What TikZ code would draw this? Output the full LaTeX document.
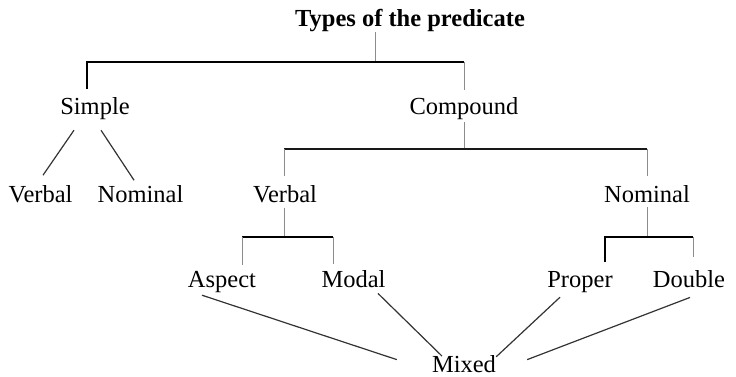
\documentclass[tikz,border=0pt]{standalone}
\usepackage{fontspec}
\setmainfont{Liberation Serif}
\usetikzlibrary{calc}
\begin{document}
\begin{tikzpicture}[x=1pt,y=-1pt,
  lbl/.style={anchor=base,inner sep=0pt,font=\fontsize{24.5}{28}\selectfont},
  ttl/.style={lbl,font=\fontsize{24.5}{28}\selectfont\bfseries},
  thk/.style={line width=2pt,black},
  mid/.style={line width=1.6pt,black!90},
  thn/.style={line width=0.9pt,black!45},
  dg/.style={line width=1.2pt,black!80}]
\useasboundingbox (0,0) rectangle (736,377);

% labels
\node[ttl] (title) at (410,27) {Types of the predicate};
\node[lbl] (simple) at (95,115) {Simple};
\node[lbl] (compound) at (464,115) {Compound};
\node[lbl] (verbalL) at (40.5,202) {Verbal};
\node[lbl] (nominalL) at (140.5,202) {Nominal};
\node[lbl] (verbalC) at (285,202) {Verbal};
\node[lbl] (nominalR) at (647,202) {Nominal};
\node[lbl] (aspect) at (222,287) {Aspect};
\node[lbl] (modal) at (353.5,287) {Modal};
\node[lbl] (proper) at (580,287) {Proper};
\node[lbl] (double) at (689,287) {Double};
\node[lbl] (mixed) at (464,372.5) {Mixed};

% bracket joints
\coordinate (t0) at (375,62);
\coordinate (b1l) at (87,62);
\coordinate (b1r) at (464,62);
\coordinate (b2l) at (284,149);
\coordinate (b2r) at (647,149);
\coordinate (b3l) at (242,237);
\coordinate (b3r) at (333,237);
\coordinate (b4l) at (605,237);
\coordinate (b4r) at (693,237);

% title -> Simple / Compound
\draw[thn] (title.south -| t0) -- (t0);
\draw[thk,shorten <=8.6pt] (simple.north -| b1l) |- (b1r);
\draw[thn,shorten >=7.6pt] (b1r) -- (compound.north -| b1r);

% Simple -> Verbal / Nominal
\draw[dg] ($(simple.south)+(-21,9.8)$) -- ($(verbalL.north)+(2.5,-9.6)$);
\draw[dg] ($(simple.south)+(6,9.8)$) -- ($(nominalL.north)+(-6.5,-4.6)$);

% Compound -> Verbal / Nominal
\draw[thn,shorten <=2pt] (compound.south) -- (compound.south |- b2l);
\draw[mid] (b2l) -- (b2r);
\draw[thn,shorten >=8.6pt] (b2l) -- (verbalC.north -| b2l);
\draw[thn,shorten >=8.6pt] (b2r) -- (nominalR.north -| b2r);

% Verbal -> Aspect / Modal
\draw[thn,shorten <=5pt] (verbalC.south -| b2l) -- (b2l |- b3l);
\draw[thk] (b3l) -- (b3r);
\draw[thn,shorten >=6pt] (b3l) -- (aspect.north -| b3l);
\draw[thn,shorten >=5.6pt] (b3r) -- (modal.north -| b3r);

% Nominal -> Proper / Double
\draw[thn,shorten <=5pt] (nominalR.south) -- (nominalR.south |- b4l);
\draw[thk,shorten <=9pt] (proper.north -| b4l) |- (b4r);
\draw[thn,shorten >=12.6pt] (b4r) -- (double.north -| b4r);

% all four -> Mixed
\draw[dg] ($(aspect.south)+(-20,2.8)$) -- ($(mixed.west)+(-35,-4.5)$);
\draw[dg] ($(modal.south)+(24.5,6)$) -- ($(mixed.north)+(-22,0.8)$);
\draw[dg] ($(proper.south)+(-20,4.8)$) -- ($(mixed.north east)+(0,1.5)$);
\draw[dg] ($(double.south)+(1,10)$) -- ($(mixed.east)+(31,-4.5)$);
\end{tikzpicture}
\end{document}
